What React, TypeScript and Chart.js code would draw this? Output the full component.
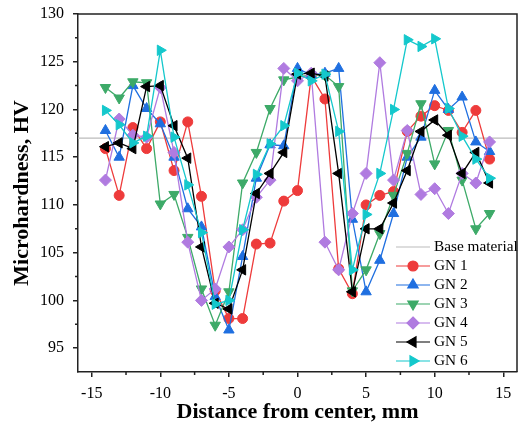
import React, { useEffect, useRef } from "react";
import { Chart, registerables } from "chart.js";

Chart.register(...registerables);

const positions = [-14, -13, -12, -11, -10, -9, -8, -7, -6, -5, -4, -3, -2, -1, 0, 1, 2, 3, 4, 5, 6, 7, 8, 9, 10, 11, 12, 13, 14];

const gn1 = [115.9, 111.0, 118.1, 115.9, 118.7, 113.6, 118.7, 110.9, 101.0, 98.1, 98.1, 105.9, 106.0, 110.4, 111.5, 123.5, 121.1, 103.3, 100.7, 110.0, 111.0, 111.4, 117.7, 119.3, 120.4, 119.9, 117.6, 119.9, 114.8];
const gn2 = [117.8, 115.0, 122.5, 120.1, 118.5, 115.0, 109.6, 107.7, 100.4, 96.9, 104.6, 112.8, 116.3, 116.2, 124.3, 123.6, 123.8, 124.3, 108.5, 100.9, 104.2, 109.1, 115.0, 117.1, 122.0, 120.0, 121.3, 116.6, 115.6];
const gn3 = [122.3, 121.2, 122.9, 122.8, 110.1, 111.1, 106.6, 101.2, 97.4, 100.9, 112.3, 115.5, 120.1, 123.1, 123.4, 123.6, 123.6, 122.4, 101.0, 103.2, 107.0, 111.0, 115.4, 120.6, 114.3, 117.8, 112.6, 107.5, 109.1];
const gn4 = [112.6, 119.0, 117.3, 117.1, 122.3, 115.5, 106.1, 100.0, 101.2, 105.6, 107.4, 110.8, 112.6, 124.3, 123.0, 123.8, 106.1, 103.2, 109.1, 113.3, 124.9, 112.6, 117.8, 111.1, 111.7, 109.1, 113.3, 112.3, 116.6];
const gn5 = [116.1, 116.5, 115.9, 122.4, 122.5, 118.3, 114.9, 105.6, 99.7, 99.1, 103.2, 111.2, 113.3, 115.5, 123.7, 123.8, 123.5, 113.3, 100.9, 107.5, 107.5, 110.2, 113.6, 117.7, 118.9, 117.3, 113.3, 115.5, 112.3];
const gn6 = [119.9, 118.4, 116.5, 117.2, 126.2, 117.1, 112.1, 107.1, 99.6, 100.0, 107.4, 113.2, 116.4, 118.3, 123.8, 123.0, 123.7, 117.7, 103.2, 109.0, 113.3, 120.0, 127.3, 126.6, 127.4, 120.1, 117.2, 114.8, 112.8];

const baseMaterial = 117;
const xTicks = [-15, -10, -5, 0, 5, 10, 15];
const yTicks = [95, 100, 105, 110, 115, 120, 125, 130];
const xMinor = [-12.5, -7.5, -2.5, 2.5, 7.5, 12.5];
const yMinor = [97.5, 102.5, 107.5, 112.5, 117.5, 122.5, 127.5];

const seriesNames = ["GN 1", "GN 2", "GN 3", "GN 4", "GN 5", "GN 6"];
const seriesValues = [gn1, gn2, gn3, gn4, gn5, gn6];
const seriesColors = ["#EE3B3B", "#1F6FE0", "#3DAA68", "#B07BE0", "#000000", "#14C8CC"];
const seriesStyles = ["circle", "triangle", "triangle", "rectRot", "triangle", "triangle"];
const seriesRot = [0, 0, 180, 0, 270, 90];
const seriesRadius = [5, 6, 6, 6, 6, 6];

const FONT = "'Liberation Serif', 'Times New Roman', serif";

function drawMarker(ctx: CanvasRenderingContext2D, style: string, rot: number, r: number, x: number, y: number) {
  ctx.beginPath();
  if (style === "circle") {
    ctx.arc(x, y, r, 0, Math.PI * 2);
  } else if (style === "rectRot") {
    ctx.moveTo(x, y - r);
    ctx.lineTo(x + r, y);
    ctx.lineTo(x, y + r);
    ctx.lineTo(x - r, y);
    ctx.closePath();
  } else {
    let a = (rot * Math.PI) / 180;
    ctx.moveTo(x + Math.sin(a) * r, y - Math.cos(a) * r);
    a += (2 * Math.PI) / 3;
    ctx.lineTo(x + Math.sin(a) * r, y - Math.cos(a) * r);
    a += (2 * Math.PI) / 3;
    ctx.lineTo(x + Math.sin(a) * r, y - Math.cos(a) * r);
    ctx.closePath();
  }
  ctx.fill();
  ctx.stroke();
}

const framePlugin = {
  id: "frameAndLegend",
  afterDraw(chart: any) {
    const { ctx, chartArea } = chart;
    const { left, right, top, bottom } = chartArea;
    const xs = chart.scales.x;
    const ys = chart.scales.y;
    ctx.save();
    ctx.strokeStyle = "#222";
    ctx.lineWidth = 1.5;
    ctx.beginPath();
    ctx.moveTo(left, top);
    ctx.lineTo(right, top);
    ctx.lineTo(right, bottom);
    ctx.stroke();
    ctx.beginPath();
    xMinor.forEach((v) => {
      const px = xs.getPixelForValue(v);
      ctx.moveTo(px, bottom);
      ctx.lineTo(px, bottom + 3);
    });
    yMinor.forEach((v) => {
      const py = ys.getPixelForValue(v);
      ctx.moveTo(left, py);
      ctx.lineTo(left - 3, py);
    });
    ctx.stroke();

    // legend
    const lx0 = 396;
    const lx1 = 430;
    const tx = 434;
    const y0 = 247;
    const dy = 19;
    ctx.font = "15.3px " + FONT;
    ctx.textBaseline = "middle";
    ctx.textAlign = "left";
    ctx.strokeStyle = "#BBBBBB";
    ctx.lineWidth = 1.2;
    ctx.beginPath();
    ctx.moveTo(lx0, y0);
    ctx.lineTo(lx1, y0);
    ctx.stroke();
    ctx.fillStyle = "#000";
    ctx.fillText("Base material", tx, y0);
    seriesNames.forEach((name, i) => {
      const yy = y0 + dy * (i + 1);
      ctx.strokeStyle = seriesColors[i];
      ctx.fillStyle = seriesColors[i];
      ctx.lineWidth = 1.2;
      ctx.beginPath();
      ctx.moveTo(lx0, yy);
      ctx.lineTo(lx1, yy);
      ctx.stroke();
      drawMarker(ctx, seriesStyles[i], seriesRot[i], seriesRadius[i], (lx0 + lx1) / 2, yy);
      ctx.fillStyle = "#000";
      ctx.fillText(name, tx, yy);
    });
    ctx.restore();
  },
};

export default function App() {
  const ref = useRef<HTMLCanvasElement | null>(null);
  useEffect(() => {
    if (!ref.current) return;
    const datasets: any[] = [
      {
        label: "Base material",
        data: [{ x: -16, y: baseMaterial }, { x: 16, y: baseMaterial }],
        borderColor: "#BBBBBB",
        borderWidth: 1.2,
        pointRadius: 0,
        order: 10,
      },
    ];
    seriesNames.forEach((name, i) => {
      datasets.push({
        label: name,
        data: positions.map((p, j) => ({ x: p, y: seriesValues[i][j] })),
        borderColor: seriesColors[i],
        backgroundColor: seriesColors[i],
        borderWidth: 1.3,
        pointStyle: seriesStyles[i],
        rotation: seriesRot[i],
        pointRadius: seriesRadius[i],
        pointBorderWidth: 1,
        tension: 0,
        order: 7 - i,
      });
    });
    const chart = new Chart(ref.current, {
      type: "line",
      data: { datasets },
      plugins: [framePlugin],
      options: {
        animation: false,
        responsive: false,
        devicePixelRatio: 1,
        layout: { padding: { top: 14, right: 2, left: 0, bottom: 0 } },
        plugins: { legend: { display: false }, tooltip: { enabled: false } },
        scales: {
          x: {
            type: "linear",
            min: -16,
            max: 16,
            afterBuildTicks: (s: any) => {
              s.ticks = xTicks.map((v) => ({ value: v }));
            },
            afterFit: (s: any) => {
              s.height = 62;
              s.paddingLeft = 0;
              s.paddingRight = 0;
              s.paddingTop = 0;
              s.paddingBottom = 0;
            },
            grid: { display: true, drawOnChartArea: false, drawTicks: true, tickLength: 5, color: "#222", lineWidth: 1.5 },
            border: { display: true, color: "#222", width: 1.5 },
            ticks: { color: "#000", font: { family: FONT, size: 16 }, padding: 7, maxRotation: 0 },
            title: {
              display: true,
              text: "Distance from center, mm",
              color: "#000",
              font: { family: FONT, size: 22, weight: "bold" },
              padding: { top: 0, bottom: 8 },
            },
          },
          y: {
            type: "linear",
            min: 92.5,
            max: 130,
            afterBuildTicks: (s: any) => {
              s.ticks = yTicks.map((v) => ({ value: v }));
            },
            afterFit: (s: any) => {
              s.width = 78;
              s.paddingLeft = 0;
              s.paddingRight = 0;
              s.paddingTop = 0;
              s.paddingBottom = 0;
            },
            grid: { display: true, drawOnChartArea: false, drawTicks: true, tickLength: 5, color: "#222", lineWidth: 1.5 },
            border: { display: true, color: "#222", width: 1.5 },
            ticks: { color: "#000", font: { family: FONT, size: 16 }, padding: 9 },
            title: {
              display: true,
              text: "Microhardness, HV",
              color: "#000",
              font: { family: FONT, size: 22, weight: "bold" },
              padding: { top: 9, bottom: 0 },
            },
          },
        },
      } as any,
    });
    return () => chart.destroy();
  }, []);
  return (
    <div style={{ position: "fixed", left: 0, top: 0, width: 524, height: 434, background: "#fff" }}>
      <canvas ref={ref} width={524} height={434} style={{ width: 524, height: 434 }} />
    </div>
  );
}
